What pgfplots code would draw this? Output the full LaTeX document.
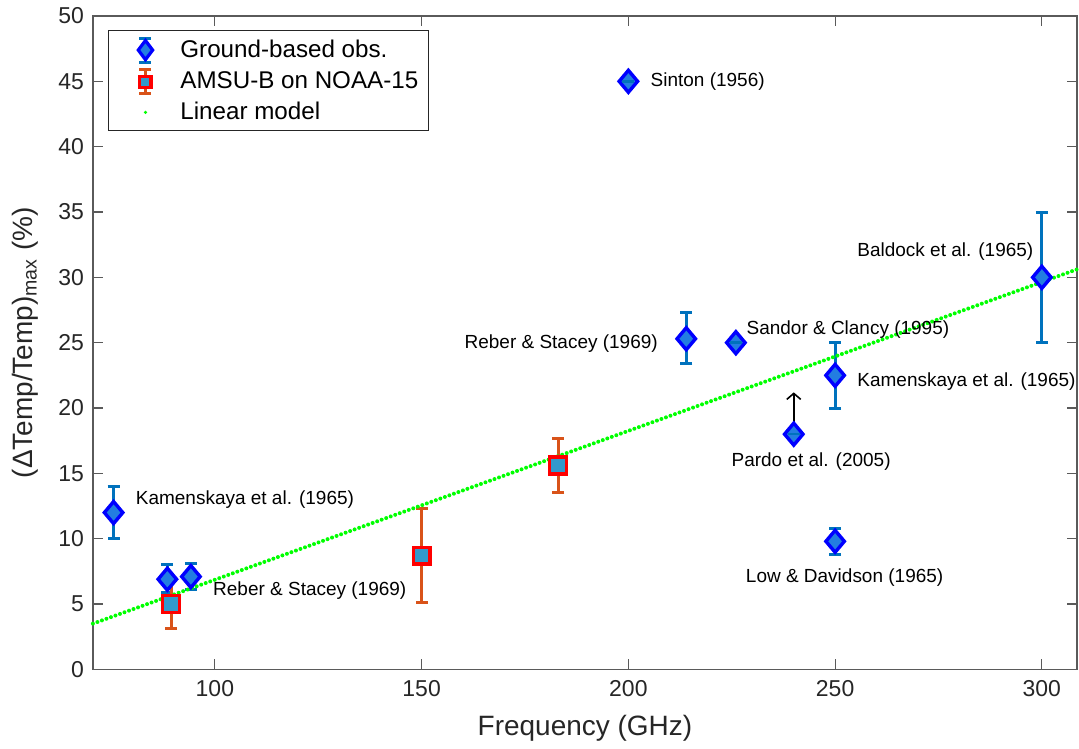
\documentclass[border=0pt]{standalone}
\usepackage{pgfplots}
\pgfplotsset{compat=1.18}
\usepackage{pgfplotstable}
\usepackage{amsmath}
\usepackage{fontspec}
\setmainfont{Liberation Sans}
\usetikzlibrary{arrows.meta}
\definecolor{gerr}{RGB}{0,114,189}
\definecolor{gface}{RGB}{35,125,225}
\definecolor{gedge}{RGB}{0,0,255}
\definecolor{aerr}{RGB}{217,83,25}
\definecolor{aface}{RGB}{51,153,204}
\definecolor{aedge}{RGB}{255,0,0}
\definecolor{lin}{RGB}{0,255,0}
\definecolor{axgray}{RGB}{90,90,90}

\pgfplotstableread{
x y ep em
75.5 12.0 2.0 2.0
88.5 6.9 1.1 1.0
94.2 7.1 1.0 1.0
200 45.0 0 0
214 25.3 2.0 1.9
226 25.0 0 0
240 18.0 0 0
250 22.5 2.5 2.5
250 9.8 1.0 1.0
300 30.0 5.0 5.0
}\ground

\pgfplotstableread{
x y
200 45.0
226 25.0
240 18.0
}\groundzero

\pgfplotstableread{
x y ep em
89.4 5.0 1.8 1.9
150 8.7 3.6 3.6
183 15.6 2.1 2.1
}\amsu

\begin{document}
\begin{tikzpicture}
\begin{axis}[
  name=main,
  scale only axis,
  width=492.5pt, height=327pt,
  xmin=70.5, xmax=308.5,
  ymin=0, ymax=50,
  xtick={100,150,200,250,300},
  ytick={0,5,...,50},
  tick align=inside,
  major tick length=5pt,
  axis line style={axgray, line width=0.6pt},
  every tick/.style={axgray, line width=0.6pt},
  /pgf/number format/assume math mode=true,
  tick label style={font=\fontsize{11.5}{13}\selectfont, text=black!85},
  yticklabel style={xshift=-1pt},
  xticklabel style={yshift=-2pt},
  xlabel={Frequency (GHz)},
  ylabel={(ΔTemp/Temp)$_{\text{max}}$ (\%)},
  every axis x label/.style={at={(axis description cs:0.5,0)}, yshift=-29.5pt, anchor=center,
     font=\fontsize{14}{16}\selectfont, text=black!85},
  every axis y label/.style={at={(axis description cs:0,0.5)}, xshift=-34pt, rotate=90, anchor=center,
     font=\fontsize{14}{16}\selectfont, text=black!85},
  legend style={at={(axis description cs:0,1)}, xshift=7.5pt, yshift=-7pt, anchor=north west,
    draw=black!85, line width=0.6pt, font=\fontsize{12.1}{14.5}\selectfont,
    inner xsep=3pt, inner ysep=3pt, row sep=2.4pt,
    nodes={inner xsep=2pt, inner ysep=1pt}},
  legend cell align=left,
  clip=false,
]
\addplot[only marks, mark=diamond*, mark size=5.5pt,
  mark options={fill=gface, draw=gedge, line width=1.7pt, xscale=1.12},
  legend image code/.code={%
    \path[draw=none, fill=none] (0pt,0pt) -- (31pt,0pt);
    \draw[draw=gerr, line width=1.5pt] (15.5pt,-6pt) -- (15.5pt,6pt);
    \draw[draw=gerr, line width=1.5pt] (12.5pt,-6pt) -- (18.5pt,-6pt);
    \draw[draw=gerr, line width=1.5pt] (12.5pt,6pt) -- (18.5pt,6pt);
    \path[draw=gedge, fill=gface, line width=1.6pt, mark=diamond*, mark size=4.8pt,
      mark options={draw=gedge, fill=gface, xscale=1}]
      plot coordinates {(15.5pt,0pt)};
  },
  error bars/.cd, y dir=both, y explicit,
  error bar style={draw=gerr, line width=1.5pt},
  error mark options={draw=gerr, line width=1.5pt, mark size=3pt, rotate=90},
  ] table[x=x, y=y, y error plus=ep, y error minus=em] {\ground};
\addlegendentry{Ground-based obs.}

\addplot[only marks, mark=-, mark size=3pt, forget plot,
  mark options={draw=gerr, line width=1.3pt}]
  table[x=x, y=y] {\groundzero};

\addplot[only marks, mark=square*, mark size=4.2pt,
  mark options={fill=aface, draw=aedge, line width=1.7pt},
  legend image code/.code={%
    \path[draw=none, fill=none] (0pt,0pt) -- (31pt,0pt);
    \draw[draw=aerr, line width=1.5pt] (15.5pt,-6pt) -- (15.5pt,6pt);
    \draw[draw=aerr, line width=1.5pt] (12.5pt,-6pt) -- (18.5pt,-6pt);
    \draw[draw=aerr, line width=1.5pt] (12.5pt,6pt) -- (18.5pt,6pt);
    \path[draw=aedge, fill=aface, line width=1.6pt, mark=square*, mark size=2.8pt,
      mark options={draw=aedge, fill=aface}]
      plot coordinates {(15.5pt,0pt)};
  },
  error bars/.cd, y dir=both, y explicit,
  error bar style={draw=aerr, line width=1.5pt},
  error mark options={draw=aerr, line width=1.5pt, mark size=3pt, rotate=90},
  ] table[x=x, y=y, y error plus=ep, y error minus=em] {\amsu};
\addlegendentry{AMSU-B on NOAA-15}

\addplot[lin, line width=2pt, line cap=round, dash pattern=on 0pt off 2.4pt,
  legend image code/.code={\path[draw=none, fill=none] (0pt,0pt) -- (31pt,0pt);
     \fill[lin, draw=none] (15.5pt,0pt) circle (0.9pt);}]
  coordinates {(70.5,3.50) (308.5,30.61)};
\addlegendentry{Linear model}

\addplot[black, line width=0.8pt, -{Straight Barb[length=3pt,width=7pt]}, forget plot]
  coordinates {(240,18.0) (240,21.2)};

\begin{scope}[every node/.style={font=\fontsize{9.5}{11}\selectfont, text=black, inner sep=0pt}]
\node[anchor=west] at (axis cs:80.8,13.0) {Kamenskaya et al. (1965)};
\node[anchor=west] at (axis cs:99.5,6.0) {Reber \& Stacey (1969)};
\node[anchor=west] at (axis cs:205.3,45.0) {Sinton (1956)};
\node[anchor=east] at (axis cs:207.2,24.9) {Reber \& Stacey (1969)};
\node[anchor=west] at (axis cs:228.5,26.0) {Sandor \& Clancy (1995)};
\node[anchor=west] at (axis cs:255.3,32.0) {Baldock et al. (1965)};
\node[anchor=west] at (axis cs:255.3,22.0) {Kamenskaya et al. (1965)};
\node[anchor=center] at (axis cs:244.2,15.9) {Pardo et al. (2005)};
\node[anchor=center] at (axis cs:252.3,7.0) {Low \& Davidson (1965)};
\end{scope}
\end{axis}
\path (main.south west) ++(-46.5pt,-37.5pt);
\path (main.north east) ++(0.5pt,8pt);
\end{tikzpicture}
\end{document}
